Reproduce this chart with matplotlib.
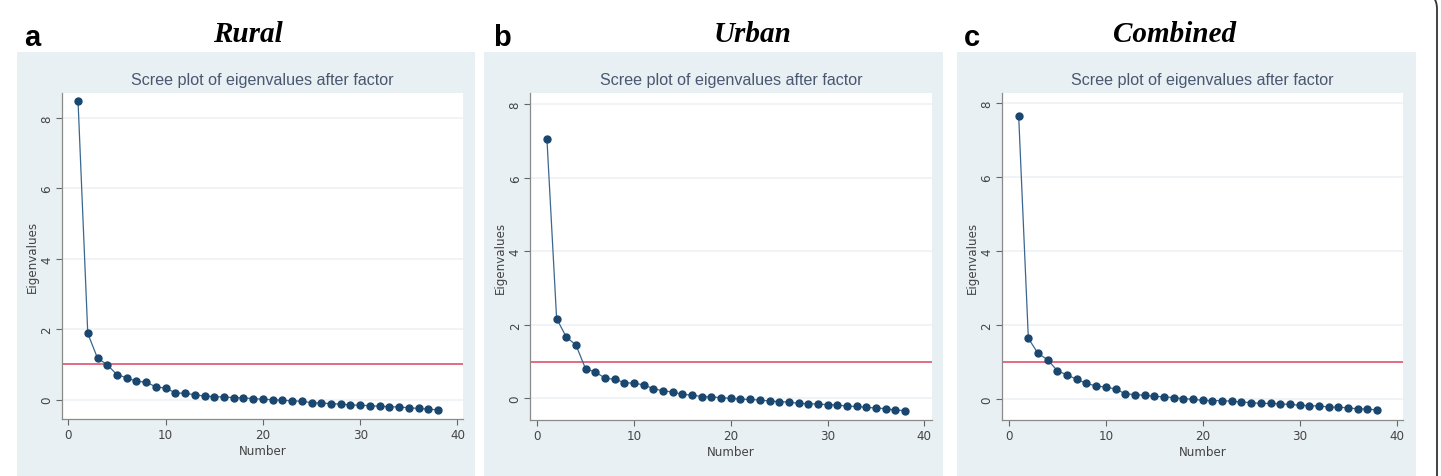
import matplotlib
matplotlib.use("Agg")
import matplotlib.pyplot as plt
from matplotlib.patches import Rectangle, FancyBboxPatch

# eigenvalues (factor number 1..38)
numbers = list(range(1, 39))

rural = [8.47, 1.88, 1.18, 0.99, 0.71, 0.62, 0.52, 0.50, 0.36, 0.33,
         0.19, 0.18, 0.14, 0.10, 0.085, 0.076, 0.057, 0.047, 0.03, 0.01,
         0.0, -0.02, -0.03, -0.05, -0.085, -0.10, -0.11, -0.13, -0.15, -0.16,
         -0.17, -0.19, -0.20, -0.21, -0.23, -0.25, -0.27, -0.29]

urban = [7.05, 2.17, 1.67, 1.45, 0.80, 0.72, 0.55, 0.52, 0.43, 0.41,
         0.37, 0.26, 0.21, 0.17, 0.11, 0.09, 0.05, 0.04, 0.02, 0.0,
         -0.02, -0.03, -0.045, -0.07, -0.09, -0.10, -0.135, -0.145, -0.155, -0.17,
         -0.18, -0.21, -0.22, -0.245, -0.26, -0.28, -0.32, -0.33]

combined = [7.66, 1.64, 1.23, 1.06, 0.76, 0.65, 0.53, 0.42, 0.35, 0.32,
            0.27, 0.14, 0.12, 0.10, 0.07, 0.06, 0.036, 0.01, -0.01, -0.036,
            -0.045, -0.045, -0.06, -0.08, -0.10, -0.12, -0.12, -0.135, -0.145, -0.17,
            -0.18, -0.19, -0.215, -0.225, -0.235, -0.27, -0.27, -0.30]

panel_letters = ["a", "b", "c"]
panel_titles = ["Rural", "Urban", "Combined"]
cutoff = 1.0
yticks = [0, 2, 4, 6, 8]
xticks = [0, 10, 20, 30, 40]

W, H = 1441, 477
fig = plt.figure(figsize=(W / 100, H / 100), dpi=100)
fig.patch.set_facecolor("white")

# overlay in pixel coordinates for the backgrounds and frame
bg = fig.add_axes([0, 0, 1, 1])
bg.set_xlim(0, W)
bg.set_ylim(H, 0)
bg.axis("off")

def px_axes(left, top, right, bottom):
    return fig.add_axes([left / W, 1 - bottom / H, (right - left) / W, (bottom - top) / H])

bg_color = "#e8f0f3"
navy = "#1a476f"

# pixel layout of each panel: background box, plot box, axis limits
layout = [
    dict(bg=(17, 53, 475), plot=(61.7, 94.3, 463.3, 420), xlim=(-0.68, 40.6), ylim=(-0.55, 8.7),
         letter_x=24, title_x=248),
    dict(bg=(484, 53, 943), plot=(530, 94.3, 931.7, 420.7), xlim=(-0.75, 40.76), ylim=(-0.58, 8.3),
         letter_x=493, title_x=753),
    dict(bg=(957, 53, 1416), plot=(1001.7, 94.3, 1403.3, 420.7), xlim=(-0.75, 40.7), ylim=(-0.56, 8.26),
         letter_x=964, title_x=1175),
]
series = [rural, urban, combined]

for lay, vals, letter, title in zip(layout, series, panel_letters, panel_titles):
    x0, y0, x1 = lay["bg"]
    bg.add_patch(Rectangle((x0, y0), x1 - x0, H - y0 + 5, facecolor=bg_color, edgecolor="none"))
    bg.text(lay["letter_x"], 46, letter, fontsize=21, fontweight="bold",
            family="Liberation Sans", ha="left", va="baseline", color="black")
    bg.text(lay["title_x"], 42, title, fontsize=21, fontweight="bold", fontstyle="italic",
            family="Liberation Serif", ha="center", va="baseline", color="black")
    l, t, r, b = lay["plot"]
    bg.text((l + r) / 2, 80, "Scree plot of eigenvalues after factor", fontsize=11.6,
            family="Liberation Sans", ha="center", va="center", color="#4a5770")

    ax = px_axes(*lay["plot"])
    ax.set_facecolor("white")
    ax.set_xlim(*lay["xlim"])
    ax.set_ylim(*lay["ylim"])
    for y in yticks:
        ax.axhline(y, color="#edf2f5", lw=1.2, zorder=0)
    ax.axhline(cutoff, color="#e0607a", lw=1.3, zorder=1)
    ax.plot(numbers, vals, color="#3b6690", lw=0.9, marker="o", markersize=5,
            markerfacecolor=navy, markeredgecolor=navy, zorder=3)

    ax.set_xticks(xticks)
    ax.set_yticks(yticks)
    ax.set_yticklabels([str(v) for v in yticks], rotation=90, va="center")
    ax.tick_params(labelsize=8.6, colors="#666666", length=4, width=0.8, pad=2.5)
    ax.tick_params(axis="x", labelcolor="#444444")
    ax.tick_params(axis="y", labelcolor="#444444", pad=2)
    for side in ["top", "right"]:
        ax.spines[side].set_visible(False)
    for side in ["left", "bottom"]:
        ax.spines[side].set_color("#8a8a8a")
        ax.spines[side].set_linewidth(0.9)
    ax.set_xlabel("Number", fontsize=8.6, color="#444444", labelpad=2)
    ax.set_ylabel("Eigenvalues", fontsize=8.6, color="#444444", labelpad=1)

# rounded outer frame, only its right edge shows
bg.add_patch(FancyBboxPatch((-60, -6), 1497, H + 80, boxstyle="round,pad=0,rounding_size=16",
                            facecolor="none", edgecolor="#333333", lw=1.3))

fig.savefig("out.png", dpi=100)
